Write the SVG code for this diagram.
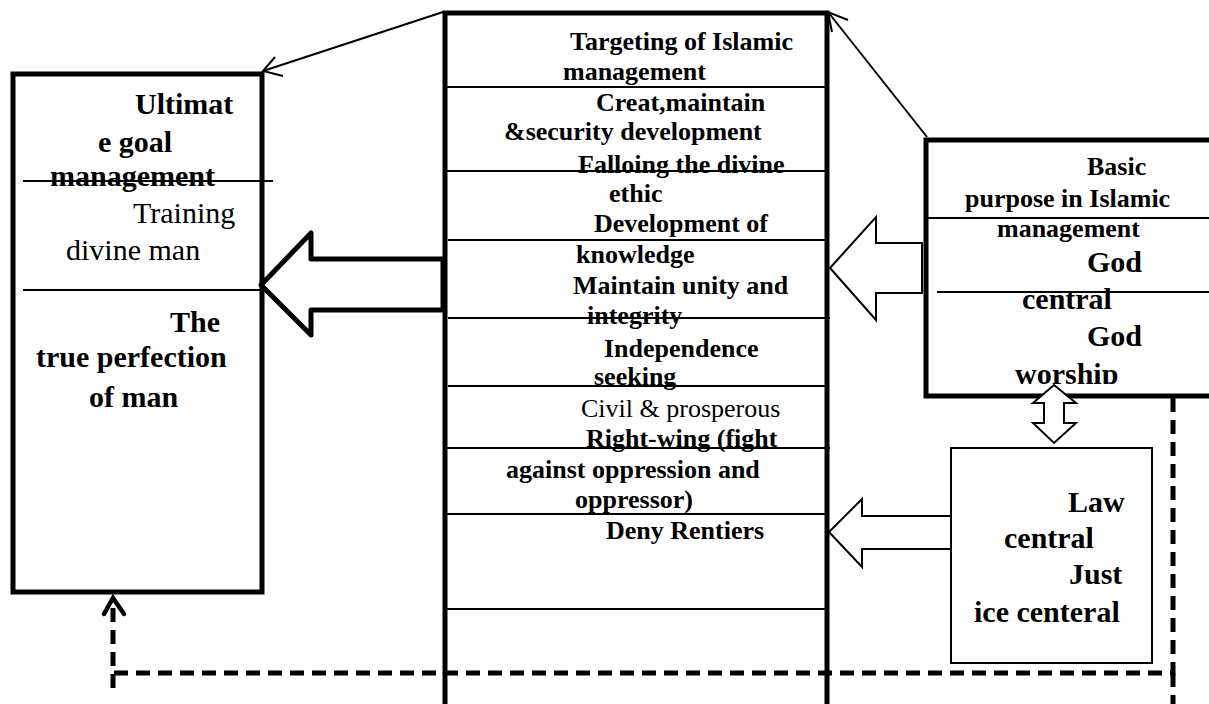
<svg xmlns="http://www.w3.org/2000/svg" width="1209" height="704" viewBox="0 0 1209 704">
<style>
.b{font-family:"Liberation Serif","Times New Roman",serif;font-weight:bold;fill:#000}
.r{font-family:"Liberation Serif","Times New Roman",serif;font-weight:normal;fill:#000}
.s26{font-size:26px}
.s30{font-size:30px}
.thin{stroke:#000;stroke-width:2;fill:none}
.thick{stroke:#000;stroke-width:5;fill:none}
.harrow{fill:#fff;stroke:#000;stroke-width:2;stroke-linejoin:miter}
.dash{stroke:#000;stroke-width:5;fill:none;stroke-dasharray:14 8}
</style>
<defs>
<clipPath id="cw"><rect x="900" y="300" width="300" height="84"/></clipPath>
</defs>
<rect width="1209" height="704" fill="#fff"/>

<g id="node-ultimate-goal">
<rect x="13" y="74" width="249" height="518" class="thick"/>
<line x1="23" y1="181" x2="273" y2="181" class="thin"/>
<line x1="23" y1="290" x2="262" y2="290" class="thin"/>
<text class="b s30" x="135" y="114">Ultimat</text>
<text class="b s30" x="98" y="152">e goal</text>
<text class="b s30" x="50" y="186">management</text>
<text class="r s30" x="133" y="223">Training</text>
<text class="r s30" x="66" y="260">divine man</text>
<text class="b s30" x="170" y="332">The</text>
<text class="b s30" x="36" y="367">true perfection</text>
<text class="b s30" x="89" y="407">of man</text>
</g>

<g id="node-targeting">
<polyline points="445,704 445,13 827,13 827,704" class="thick"/>
<line x1="445" y1="87" x2="827" y2="87" class="thin"/>
<line x1="445" y1="171" x2="827" y2="171" class="thin"/>
<line x1="448" y1="240" x2="826" y2="240" class="thin"/>
<line x1="448" y1="318" x2="830" y2="318" class="thin"/>
<line x1="448" y1="386" x2="826" y2="386" class="thin"/>
<line x1="445" y1="448" x2="830" y2="448" class="thin"/>
<line x1="445" y1="514" x2="827" y2="514" class="thin"/>
<line x1="445" y1="609" x2="827" y2="609" class="thin"/>
<text class="b s26" x="570" y="50">Targeting of Islamic</text>
<text class="b s26" x="563" y="80">management</text>
<text class="b s26" x="596" y="111">Creat,maintain</text>
<text class="b s26" x="504" y="140">&amp;security development</text>
<text class="b s26" x="578" y="173">Falloing the divine</text>
<text class="b s26" x="609" y="202">ethic</text>
<text class="b s26" x="594" y="232">Development of</text>
<text class="b s26" x="576" y="263">knowledge</text>
<text class="b s26" x="573" y="294">Maintain unity and</text>
<text class="b s26" x="587" y="324">integrity</text>
<text class="b s26" x="604" y="357">Independence</text>
<text class="b s26" x="594" y="385">seeking</text>
<text class="r s26" x="581" y="417">Civil &amp; prosperous</text>
<text class="b s26" x="586" y="447">Right-wing (fight</text>
<text class="b s26" x="506" y="478">against oppression and</text>
<text class="b s26" x="575" y="508">oppressor)</text>
<text class="b s26" x="606" y="539">Deny Rentiers</text>
</g>

<g id="node-basic-purpose">
<rect x="926" y="140" width="300" height="256" class="thick"/>
<line x1="926" y1="218" x2="1209" y2="218" class="thin"/>
<line x1="937" y1="292" x2="1209" y2="292" class="thin"/>
<text class="b s26" x="1087" y="175">Basic</text>
<text class="b s26" x="965" y="207">purpose in Islamic</text>
<text class="b s26" x="997" y="237">management</text>
<text class="b s30" x="1087" y="272">God</text>
<text class="b s30" x="1022" y="309">central</text>
<text class="b s30" x="1087" y="346">God</text>
<text class="b s30" x="1015" y="384" clip-path="url(#cw)">worship</text>
</g>

<g id="node-law-central">
<rect x="951" y="448" width="201" height="215" class="thin"/>
<text class="b s30" x="1068" y="512">Law</text>
<text class="b s30" x="1004" y="548">central</text>
<text class="b s30" x="1069" y="584">Just</text>
<text class="b s30" x="974" y="622">ice centeral</text>
</g>

<g id="connectors">
<polygon points="261,285 311,233 311,259 443,259 443,310 311,310 311,335" fill="#fff" stroke="#000" stroke-width="5" stroke-linejoin="round"/>
<polygon points="830,268 876,217 876,243 922,243 922,293 876,293 876,320" class="harrow"/>
<polygon points="829,532 862,499 862,516 951,516 951,549 862,549 862,567" class="harrow"/>
<polygon points="1054,385 1076,403 1064,403 1064,423 1076,423 1054,443 1033,423 1044,423 1044,403 1033,403" class="harrow"/>
<line x1="443" y1="12" x2="263" y2="71" class="thin"/>
<polyline points="275,57 263,71 283,76" class="thin"/>
<line x1="927" y1="137" x2="828" y2="12" class="thin"/>
<polyline points="848,20 828,12 832,32" class="thin"/>
<polyline points="1173,398 1173,673 113,673" class="dash"/>
<line x1="1173" y1="673" x2="1173" y2="704" class="dash"/>
<line x1="113" y1="688" x2="113" y2="598" class="dash"/>
<polyline points="104,614 113,598 124,614" stroke="#000" stroke-width="4.5" fill="none" stroke-linecap="round"/>
</g>
</svg>
